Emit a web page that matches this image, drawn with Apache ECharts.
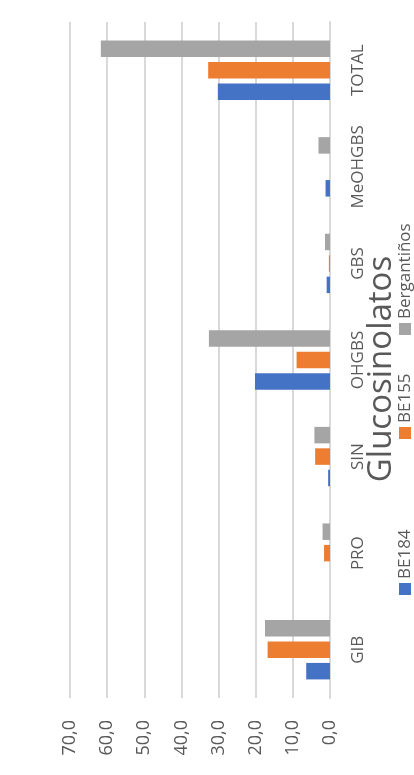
<!DOCTYPE html>
<html>
<head>
<meta charset="utf-8">
<script src="https://cdn.jsdelivr.net/npm/echarts@6/dist/echarts.min.js"></script>
<style>
html,body{margin:0;padding:0;background:#fff;}
#chart{width:414px;height:775px;}
</style>
</head>
<body>
<div id="chart"></div>
<script>
var titleText = 'Glucosinolatos';
var categories = ['GIB', 'PRO', 'SIN', 'OHGBS', 'GBS', 'MeOHGBS', 'TOTAL'];
var seriesNames = ['BE184', 'BE155', 'Bergantiños'];
var be184 = [6.4, 0, 0.5, 20.2, 0.9, 1.2, 30.2];
var be155 = [16.8, 1.6, 4.0, 9.0, 0.3, 0, 32.8];
var bergantinos = [17.5, 2.0, 4.2, 32.6, 1.35, 3.1, 61.7];
var valueTicks = [0, 10, 20, 30, 40, 50, 60, 70];
var colors = ['#4472C4', '#ED7D31', '#A5A5A5'];

var seriesData = [be184, be155, bergantinos];
var FONT = '"Open Sans", "Liberation Sans", sans-serif';
var chart = echarts.init(document.getElementById('chart'), null, {renderer: 'canvas'});

var legendChildren = [];
var legendOffsets = [2, 158, 262];
for (var i = 0; i < seriesNames.length; i++) {
  var lx = legendOffsets[i];
  legendChildren.push({type: 'rect', shape: {x: lx, y: -6, width: 12, height: 12}, style: {fill: colors[i]}});
  legendChildren.push({type: 'text', x: lx + 16, y: 0, style: {text: seriesNames[i], font: '17px ' + FONT, fill: '#595959', textAlign: 'left', textVerticalAlign: 'middle'}});
}

var seriesList = [];
for (var k = seriesNames.length - 1; k >= 0; k--) {
  seriesList.push({name: seriesNames[k], type: 'bar', data: seriesData[k], barWidth: 16.5, barGap: '30%', itemStyle: {color: colors[k]}});
}

var option = {
  animation: false,
  grid: {left: 70, right: 84, top: 22, bottom: 77, containLabel: false},
  xAxis: {
    type: 'value',
    inverse: true,
    min: valueTicks[0],
    max: valueTicks[valueTicks.length - 1],
    interval: valueTicks[1] - valueTicks[0],
    position: 'bottom',
    axisLine: {show: false},
    axisTick: {show: false},
    splitLine: {show: true, lineStyle: {color: '#D9D9D9', width: 2}},
    axisLabel: {
      rotate: 90,
      margin: 22,
      fontSize: 18,
      fontFamily: FONT,
      color: '#595959',
      formatter: function (v) { return v.toFixed(1).replace('.', ','); }
    }
  },
  yAxis: {
    type: 'category',
    data: categories,
    position: 'right',
    axisLine: {show: true, lineStyle: {color: '#D9D9D9', width: 2}},
    axisTick: {show: false},
    axisLabel: {interval: 0, hideOverlap: false, rotate: 90, margin: 20, fontSize: 17, fontFamily: FONT, color: '#595959'}
  },
  graphic: [
    {type: 'text', x: 382, y: 369, rotation: Math.PI / 2,
     style: {text: titleText, font: '33px ' + FONT, fill: '#595959', textAlign: 'center', textVerticalAlign: 'middle'}},
    {type: 'group', x: 405, y: 597, rotation: Math.PI / 2, children: legendChildren}
  ],
  series: seriesList
};
chart.setOption(option);
</script>
</body>
</html>
